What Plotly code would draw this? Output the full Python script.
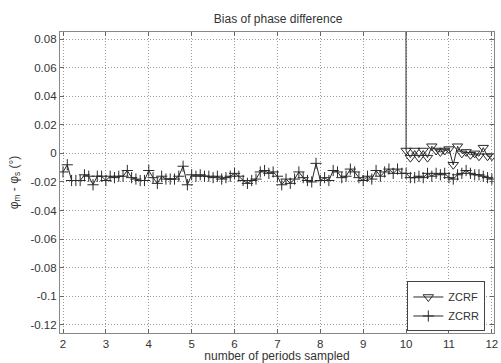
import numpy as np
import plotly.graph_objects as go

# Number of periods sampled (step 0.1)
periods_zcrr = [round(2.0 + 0.1 * i, 1) for i in range(101)]
bias_zcrr = [
    -0.013, -0.008, -0.019, -0.019, -0.019, -0.015, -0.016, -0.022, -0.016, -0.016,
    -0.019, -0.016, -0.017, -0.016, -0.016, -0.012, -0.017, -0.018, -0.019, -0.019,
    -0.012, -0.017, -0.021, -0.016, -0.018, -0.018, -0.018, -0.016, -0.009, -0.022,
    -0.015, -0.016, -0.015, -0.016, -0.016, -0.017, -0.016, -0.018, -0.017, -0.016,
    -0.014, -0.016, -0.019, -0.021, -0.019, -0.018, -0.013, -0.012, -0.014, -0.013,
    -0.016, -0.022, -0.018, -0.021, -0.018, -0.013, -0.017, -0.019, -0.020, -0.007,
    -0.019, -0.017, -0.019, -0.012, -0.013, -0.017, -0.016, -0.011, -0.013, -0.017,
    -0.019, -0.016, -0.018, -0.012, -0.016, -0.013, -0.011, -0.014, -0.011, -0.014,
    -0.014, -0.017, -0.017, -0.016, -0.017, -0.014, -0.016, -0.014, -0.015, -0.014,
    -0.017, -0.018, -0.015, -0.014, -0.012, -0.014, -0.015, -0.015, -0.016, -0.017,
    -0.018,
]

periods_zcrf = [round(9.9 + 0.1 * i, 1) for i in range(22)]
bias_zcrf = [
    5.0,
    0.002, -0.003, 0.002, -0.003, 0.002, -0.003, 0.005, 0.002, 0.001, 0.002,
    0.003, -0.008, 0.005, 0.000, 0.001, -0.001, 0.000, -0.002, 0.004, -0.002,
    -0.002,
]

x_ticks = list(range(2, 13))
y_ticks = [0.08, 0.06, 0.04, 0.02, 0, -0.02, -0.04, -0.06, -0.08, -0.1, -0.12]
y_ticklabels = ["0.08", "0.06", "0.04", "0.02", "0", "-0.02", "-0.04",
                "-0.06", "-0.08", "-0.1", "-0.12"]

FONT = "Liberation Sans, Arial, sans-serif"
INK = "#2a2a2a"
TXT = "#333333"

fig = go.Figure()
fig.add_trace(go.Scatter(
    x=periods_zcrf, y=bias_zcrf, name="ZCRF", mode="lines+markers",
    line=dict(color=INK, width=1),
    marker=dict(symbol="triangle-down-open", size=9, color=INK,
                line=dict(color=INK, width=1)),
))
fig.add_trace(go.Scatter(
    x=periods_zcrr, y=bias_zcrr, name="ZCRR", mode="lines+markers",
    line=dict(color=INK, width=1),
    marker=dict(symbol="cross-thin-open", size=8, color=INK,
                line=dict(color=INK, width=1)),
))

axis_common = dict(
    showline=True, linecolor="#888", linewidth=1.2, mirror="ticks",
    ticks="inside", ticklen=4, tickcolor="#666",
    showgrid=True, gridcolor="#9a9a9a", gridwidth=1, griddash="1px,2px",
    zeroline=False, tickfont=dict(family=FONT, size=11.5, color=TXT),
    ticklabeloverflow="allow",
)

fig.update_layout(
    width=501, height=363,
    margin=dict(l=60, r=3, t=32, b=30),
    paper_bgcolor="white", plot_bgcolor="white",
    title=dict(text="Bias of phase difference", x=0.555, xanchor="center",
               y=0.948, yanchor="middle",
               font=dict(family=FONT, size=12, color=TXT)),
    font=dict(family=FONT, size=12, color=TXT),
    xaxis=dict(range=[1.93, 12.05], tickvals=x_ticks,
               title=dict(text="number of periods sampled", standoff=0,
                          font=dict(family=FONT, size=12, color=TXT)),
               **axis_common),
    yaxis=dict(range=[-0.1258, 0.085], tickvals=y_ticks, ticktext=y_ticklabels,
               title=dict(text="φ<sub>m</sub> - φ<sub>s</sub> (°)", standoff=9,
                          font=dict(family=FONT, size=12, color=TXT)),
               **axis_common),
    showlegend=True,
    legend=dict(x=0.98, xanchor="right", y=0.005, yanchor="bottom",
                bgcolor="white", bordercolor="#444", borderwidth=1,
                font=dict(family=FONT, size=11, color=TXT),
                itemwidth=30, tracegroupgap=0),
)

fig.write_html("out.html")
